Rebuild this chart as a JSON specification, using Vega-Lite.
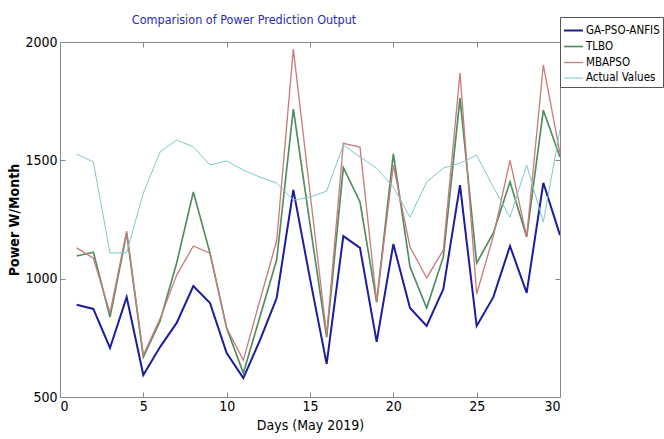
{
  "$schema": "https://vega.github.io/schema/vega-lite/v6.json",
  "width": 500,
  "height": 355,
  "autosize": {"type": "none"},
  "padding": {"left": 60, "top": 42, "right": 104, "bottom": 42},
  "background": "white",
  "config": {
    "view": {"stroke": "#888888", "strokeWidth": 1},
    "font": "DejaVu Sans Condensed, Liberation Sans, sans-serif",
    "axis": {"grid": false, "domain": false, "tickColor": "#888888", "labelFont": "DejaVu Sans Condensed, Liberation Sans, sans-serif", "labelFontSize": 14, "labelColor": "#000000", "titleFont": "DejaVu Sans Condensed, Liberation Sans, sans-serif", "titleFontSize": 14, "titleColor": "#000000", "titleFontWeight": "normal"}
  },
  "title": {"text": "Comparision of Power Prediction Output", "font": "DejaVu Sans Condensed, Liberation Sans, sans-serif", "fontSize": 12.5, "fontWeight": "normal", "color": "#2a2ab8", "anchor": "middle", "offset": 12, "dy": 22, "dx": -66},
  "data": {"values": [
    {"day": 1, "GA-PSO-ANFIS": 890, "TLBO": 1096, "MBAPSO": 1130, "Actual Values": 1527},
    {"day": 2, "GA-PSO-ANFIS": 872, "TLBO": 1112, "MBAPSO": 1087, "Actual Values": 1493},
    {"day": 3, "GA-PSO-ANFIS": 707, "TLBO": 838, "MBAPSO": 855, "Actual Values": 1108},
    {"day": 4, "GA-PSO-ANFIS": 922, "TLBO": 1193, "MBAPSO": 1201, "Actual Values": 1110},
    {"day": 5, "GA-PSO-ANFIS": 593, "TLBO": 669, "MBAPSO": 677, "Actual Values": 1362},
    {"day": 6, "GA-PSO-ANFIS": 711, "TLBO": 820, "MBAPSO": 830, "Actual Values": 1535},
    {"day": 7, "GA-PSO-ANFIS": 813, "TLBO": 1066, "MBAPSO": 1015, "Actual Values": 1586},
    {"day": 8, "GA-PSO-ANFIS": 969, "TLBO": 1366, "MBAPSO": 1138, "Actual Values": 1557},
    {"day": 9, "GA-PSO-ANFIS": 897, "TLBO": 1108, "MBAPSO": 1108, "Actual Values": 1480},
    {"day": 10, "GA-PSO-ANFIS": 686, "TLBO": 791, "MBAPSO": 791, "Actual Values": 1497},
    {"day": 11, "GA-PSO-ANFIS": 580, "TLBO": 601, "MBAPSO": 656, "Actual Values": 1459},
    {"day": 12, "GA-PSO-ANFIS": 740, "TLBO": 840, "MBAPSO": 910, "Actual Values": 1429},
    {"day": 13, "GA-PSO-ANFIS": 918, "TLBO": 1080, "MBAPSO": 1160, "Actual Values": 1404},
    {"day": 14, "GA-PSO-ANFIS": 1375, "TLBO": 1717, "MBAPSO": 1970, "Actual Values": 1332},
    {"day": 15, "GA-PSO-ANFIS": 1000, "TLBO": 1230, "MBAPSO": 1365, "Actual Values": 1345},
    {"day": 16, "GA-PSO-ANFIS": 640, "TLBO": 753, "MBAPSO": 760, "Actual Values": 1370},
    {"day": 17, "GA-PSO-ANFIS": 1180, "TLBO": 1470, "MBAPSO": 1572, "Actual Values": 1565},
    {"day": 18, "GA-PSO-ANFIS": 1130, "TLBO": 1324, "MBAPSO": 1556, "Actual Values": 1514},
    {"day": 19, "GA-PSO-ANFIS": 733, "TLBO": 901, "MBAPSO": 901, "Actual Values": 1467},
    {"day": 20, "GA-PSO-ANFIS": 1146, "TLBO": 1527, "MBAPSO": 1480, "Actual Values": 1387},
    {"day": 21, "GA-PSO-ANFIS": 876, "TLBO": 1050, "MBAPSO": 1134, "Actual Values": 1260},
    {"day": 22, "GA-PSO-ANFIS": 800, "TLBO": 876, "MBAPSO": 1003, "Actual Values": 1409},
    {"day": 23, "GA-PSO-ANFIS": 956, "TLBO": 1092, "MBAPSO": 1121, "Actual Values": 1467},
    {"day": 24, "GA-PSO-ANFIS": 1395, "TLBO": 1763, "MBAPSO": 1869, "Actual Values": 1488},
    {"day": 25, "GA-PSO-ANFIS": 800, "TLBO": 1066, "MBAPSO": 935, "Actual Values": 1522},
    {"day": 26, "GA-PSO-ANFIS": 922, "TLBO": 1193, "MBAPSO": 1180, "Actual Values": 1387},
    {"day": 27, "GA-PSO-ANFIS": 1138, "TLBO": 1409, "MBAPSO": 1500, "Actual Values": 1260},
    {"day": 28, "GA-PSO-ANFIS": 940, "TLBO": 1176, "MBAPSO": 1176, "Actual Values": 1480},
    {"day": 29, "GA-PSO-ANFIS": 1405, "TLBO": 1712, "MBAPSO": 1903, "Actual Values": 1239},
    {"day": 30, "GA-PSO-ANFIS": 1184, "TLBO": 1514, "MBAPSO": 1530, "Actual Values": 1630}
  ]},
  "transform": [{"fold": ["GA-PSO-ANFIS", "TLBO", "MBAPSO", "Actual Values"], "as": ["series", "value"]}],
  "layer": [
    {
      "mark": {"type": "line", "clip": true},
      "encoding": {
        "x": {"field": "day", "type": "quantitative", "scale": {"domain": [0, 30], "nice": false}, "axis": {"values": [0, 5, 10, 15, 20, 25, 30], "format": "d", "tickSize": -5, "labelPadding": 7, "title": "Days (May 2019)", "titlePadding": 5}},
        "y": {"field": "value", "type": "quantitative", "scale": {"domain": [500, 2000], "nice": false, "zero": false}, "axis": {"values": [500, 1000, 1500, 2000], "format": "d", "tickSize": -5, "labelPadding": 8, "title": "Power W/Month", "titleFontWeight": "bold", "titlePadding": 3}},
        "color": {"field": "series", "type": "nominal", "sort": ["GA-PSO-ANFIS", "TLBO", "MBAPSO", "Actual Values"],
          "scale": {"domain": ["GA-PSO-ANFIS", "TLBO", "MBAPSO", "Actual Values"], "range": ["#1c1c9c", "#4f8c60", "#c97c7c", "#7cc9c9"]},
          "legend": {"title": null, "orient": "none", "legendX": 500, "legendY": -25, "symbolType": "stroke", "symbolSize": 361, "symbolStrokeWidth": 1.5, "labelFont": "DejaVu Sans Condensed, Liberation Sans, sans-serif", "labelFontSize": 11.5, "labelColor": "#000000", "strokeColor": "#555555", "padding": 3, "rowPadding": 0, "labelOffset": 2, "fillColor": "white", "labelLimit": 200}},
        "strokeWidth": {"field": "series", "type": "nominal", "scale": {"domain": ["GA-PSO-ANFIS", "TLBO", "MBAPSO", "Actual Values"], "range": [2, 1, 1, 1.2]}, "legend": null}
      }
    },
    {
      "mark": {"type": "point", "opacity": 0},
      "encoding": {
        "x": {"field": "day", "type": "quantitative", "axis": {"orient": "top", "values": [5, 10, 15, 20, 25], "tickSize": -5, "labels": false, "title": null}},
        "y": {"field": "value", "type": "quantitative", "axis": {"orient": "right", "values": [1000, 1500], "tickSize": -5, "labels": false, "title": null}}
      }
    }
  ],
  "resolve": {"axis": {"x": "independent", "y": "independent"}}
}
